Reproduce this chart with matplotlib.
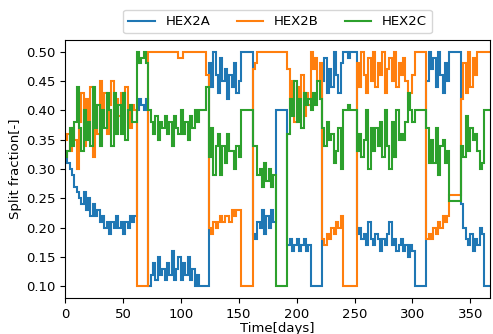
import numpy as np
import matplotlib
matplotlib.use("Agg")
import matplotlib.pyplot as plt

# day edges of the 2-day steps (0 .. 368)
day_edges = np.arange(0, 370, 2)

hex2a = [
    # 0-60
    0.33,0.31,0.30,0.29,0.27,0.26,0.25,0.24,0.26,0.23,0.25,0.22,0.24,0.22,0.23,0.21,
    0.22,0.20,0.21,0.19,0.21,0.20,0.22,0.20,0.21,0.19,0.21,0.20,0.22,0.21,0.22,
    # 62-70
    0.40,0.42,0.41,0.40,0.42,
    # 72-116
    0.10,0.12,0.14,0.11,0.15,0.12,0.13,0.11,0.14,0.12,0.16,0.11,0.13,0.15,0.11,0.14,
    0.12,0.15,0.11,0.13,0.10,0.12,0.10,
    # 118-122
    0.10,0.10,0.10,
    # 124-150
    0.48,0.44,0.50,0.46,0.43,0.49,0.45,0.47,0.42,0.46,0.44,0.48,0.43,0.45,
    # 152-160
    0.50,0.50,0.50,0.50,0.50,
    # 162-180
    0.19,0.18,0.21,0.20,0.23,0.19,0.22,0.20,0.23,0.21,
    # 182-190
    0.40,0.40,0.40,0.40,0.40,
    # 192-210
    0.17,0.18,0.16,0.17,0.18,0.16,0.17,0.18,0.16,0.17,
    # 212-220
    0.10,0.10,0.10,0.10,0.10,
    # 222-238
    0.45,0.49,0.43,0.47,0.44,0.50,0.46,0.43,0.48,
    # 240-250
    0.50,0.50,0.49,0.50,0.50,0.50,
    # 252-300
    0.19,0.20,0.18,0.19,0.17,0.21,0.18,0.17,0.19,0.18,0.16,0.18,0.17,0.19,0.21,0.17,
    0.18,0.16,0.17,0.18,0.16,0.17,0.15,0.17,0.16,
    # 302-310
    0.10,0.10,0.10,0.10,0.10,
    # 312-330
    0.45,0.50,0.47,0.49,0.44,0.50,0.46,0.43,0.48,0.45,
    # 332-340
    0.50,0.50,0.50,0.50,0.50,
    # 342-360
    0.24,0.20,0.18,0.17,0.19,0.16,0.18,0.17,0.20,0.19,
    # 362-366
    0.10,0.10,0.10,
]

hex2b = [
    0.35,0.36,0.33,0.37,0.35,0.30,0.38,0.43,0.34,0.42,0.37,0.44,0.32,0.41,0.36,0.45,
    0.38,0.43,0.36,0.41,0.45,0.37,0.42,0.39,0.43,0.38,0.44,0.40,0.37,0.41,0.40,
    0.10,0.10,0.10,0.10,0.10,
    0.50,0.50,0.50,0.50,0.50,0.50,0.50,0.50,0.50,0.50,0.50,0.50,0.50,0.49,0.49,0.50,
    0.50,0.50,0.50,0.50,0.50,0.50,0.50,
    0.50,0.50,0.46,
    0.20,0.19,0.21,0.20,0.21,0.22,0.21,0.22,0.22,0.21,0.23,0.22,0.23,0.23,
    0.10,0.10,0.10,0.10,0.10,
    0.47,0.48,0.50,0.50,0.50,0.50,0.50,0.50,0.50,0.50,
    0.50,0.50,0.50,0.50,0.50,
    0.47,0.40,0.45,0.38,0.44,0.42,0.46,0.39,0.43,0.41,
    0.50,0.47,0.49,0.45,0.48,
    0.18,0.17,0.19,0.18,0.20,0.19,0.21,0.20,0.22,
    0.10,0.10,0.10,0.10,0.10,0.10,
    0.48,0.44,0.50,0.46,0.43,0.49,0.45,0.50,0.44,0.48,0.46,0.50,0.43,0.47,0.49,0.45,
    0.50,0.44,0.48,0.46,0.49,0.45,0.42,0.43,0.46,
    0.50,0.50,0.50,0.50,0.50,
    0.18,0.19,0.18,0.20,0.19,0.21,0.20,0.22,0.21,0.22,
    0.255,0.255,0.255,0.255,0.255,
    0.42,0.48,0.43,0.50,0.44,0.49,0.46,0.50,0.50,0.50,
    0.50,0.50,0.50,
]

hex2c = [
    0.32,0.33,0.37,0.34,0.38,0.44,0.37,0.33,0.40,0.35,0.38,0.34,0.44,0.37,0.41,0.34,
    0.40,0.37,0.43,0.40,0.34,0.43,0.36,0.41,0.36,0.43,0.35,0.40,0.41,0.38,0.38,
    0.50,0.48,0.49,0.50,0.48,
    0.40,0.38,0.36,0.39,0.35,0.38,0.37,0.39,0.36,0.38,0.34,0.39,0.37,0.36,0.40,0.36,
    0.38,0.35,0.39,0.37,0.40,0.38,0.40,
    0.40,0.40,0.44,
    0.32,0.37,0.29,0.34,0.36,0.29,0.34,0.31,0.36,0.33,0.33,0.30,0.34,0.32,
    0.40,0.40,0.40,0.40,0.40,
    0.34,0.34,0.29,0.30,0.27,0.31,0.28,0.30,0.27,0.29,
    0.10,0.10,0.10,0.10,0.10,
    0.36,0.42,0.39,0.45,0.38,0.42,0.37,0.43,0.41,0.42,
    0.40,0.43,0.41,0.45,0.42,
    0.37,0.34,0.38,0.35,0.36,0.31,0.33,0.37,0.30,
    0.40,0.40,0.41,0.40,0.40,0.40,
    0.33,0.36,0.32,0.35,0.40,0.30,0.37,0.33,0.37,0.34,0.38,0.32,0.40,0.34,0.30,0.38,
    0.32,0.40,0.35,0.36,0.35,0.38,0.43,0.40,0.38,
    0.40,0.40,0.40,0.40,0.40,
    0.37,0.31,0.35,0.31,0.37,0.29,0.34,0.35,0.31,0.33,
    0.245,0.245,0.245,0.245,0.245,
    0.34,0.32,0.39,0.33,0.37,0.35,0.36,0.33,0.30,0.31,
    0.40,0.40,0.40,
]

series_names = ["HEX2A", "HEX2B", "HEX2C"]
yticks = [0.10, 0.15, 0.20, 0.25, 0.30, 0.35, 0.40, 0.45, 0.50]
xticks = [0, 50, 100, 150, 200, 250, 300, 350]

plt.rcParams["font.family"] = ["DejaVu Sans"]
plt.rcParams["font.size"] = 9.5

fig = plt.figure(figsize=(4.93, 3.34), dpi=100)
ax = fig.add_axes([65/493, 1-298/334, (490-65)/493, (298-40)/334])

colors = ["#1f77b4", "#ff7f0e", "#2ca02c"]
for vals, name, col in zip([hex2a, hex2b, hex2c], series_names, colors):
    ax.stairs(vals, day_edges, baseline=None, color=col, lw=1.5, label=name)

ax.set_xlim(0, 367)
ax.set_ylim(0.08, 0.52)
ax.set_xticks(xticks)
ax.set_yticks(yticks)
ax.set_yticklabels([f"{v:.2f}" for v in yticks])
ax.set_xlabel("Time[days]", labelpad=1)
ax.set_ylabel("Split fraction[-]", labelpad=3)

ax.legend(loc="lower center", bbox_to_anchor=(0.5, 1.0), ncol=3,
          fontsize=9.5, handlelength=2.0, columnspacing=2.0)

fig.savefig("out.png", dpi=100)
